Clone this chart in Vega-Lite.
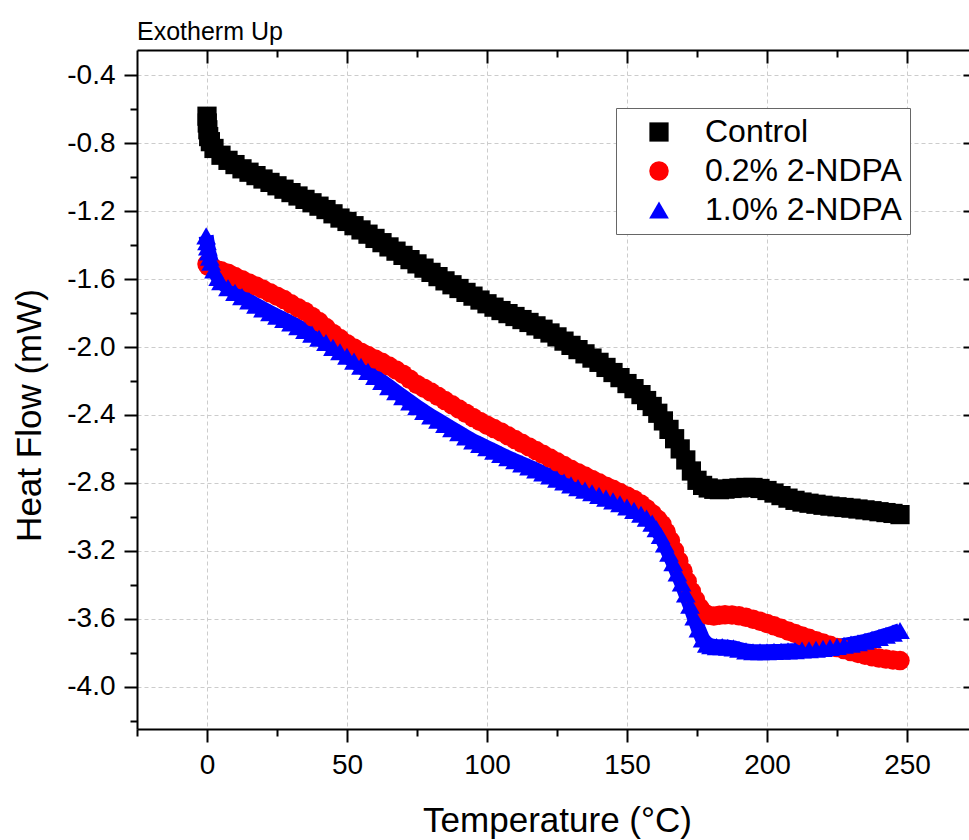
{
  "$schema": "https://vega.github.io/schema/vega-lite/v6.json",
  "width": 832,
  "height": 679,
  "autosize": {"type": "none"},
  "padding": {"left": 137, "top": 50, "right": 0, "bottom": 111},
  "background": "white",
  "title": {"text": "Exotherm Up", "anchor": "start", "frame": "group", "fontSize": 25, "font": "Liberation Sans", "fontWeight": "normal", "baseline": "alphabetic", "offset": 17, "dy": 33, "color": "black"},
  "config": {
    "locale": {"number": {"decimal": ".", "thousands": ",", "grouping": [3], "currency": ["$", ""], "minus": "-"}},
    "view": {"stroke": null},
    "axis": {"labelFont": "Liberation Sans", "titleFont": "Liberation Sans", "labelColor": "black", "titleColor": "black", "titleFontWeight": "normal", "domainColor": "black", "domainWidth": 2, "tickColor": "black", "tickWidth": 2, "gridColor": "#cccccc", "gridDash": [4, 3], "gridWidth": 1, "labelOverlap": false, "labelFlush": false}
  },
  "data": {"values": [
    {"s":"Control","t":0,"hf":-0.64},{"s":"Control","t":0.1,"hf":-0.68},{"s":"Control","t":0.3,"hf":-0.72},{"s":"Control","t":0.6,"hf":-0.76},{"s":"Control","t":1.2,"hf":-0.79},{"s":"Control","t":2.5,"hf":-0.83},{"s":"Control","t":5,"hf":-0.87},{"s":"Control","t":7.5,"hf":-0.9},{"s":"Control","t":10,"hf":-0.925},{"s":"Control","t":12.5,"hf":-0.95},{"s":"Control","t":15,"hf":-0.97},{"s":"Control","t":17.5,"hf":-0.99},{"s":"Control","t":20,"hf":-1.01},{"s":"Control","t":22.5,"hf":-1.03},{"s":"Control","t":25,"hf":-1.05},{"s":"Control","t":27.5,"hf":-1.07},{"s":"Control","t":30,"hf":-1.09},{"s":"Control","t":32.5,"hf":-1.11},{"s":"Control","t":35,"hf":-1.13},{"s":"Control","t":37.5,"hf":-1.15},{"s":"Control","t":40,"hf":-1.17},{"s":"Control","t":42.5,"hf":-1.19},{"s":"Control","t":45,"hf":-1.215},{"s":"Control","t":47.5,"hf":-1.24},{"s":"Control","t":50,"hf":-1.26},{"s":"Control","t":52.5,"hf":-1.285},{"s":"Control","t":55,"hf":-1.31},{"s":"Control","t":57.5,"hf":-1.335},{"s":"Control","t":60,"hf":-1.36},{"s":"Control","t":62.5,"hf":-1.385},{"s":"Control","t":65,"hf":-1.41},{"s":"Control","t":67.5,"hf":-1.435},{"s":"Control","t":70,"hf":-1.46},{"s":"Control","t":72.5,"hf":-1.485},{"s":"Control","t":75,"hf":-1.51},{"s":"Control","t":77.5,"hf":-1.535},{"s":"Control","t":80,"hf":-1.56},{"s":"Control","t":82.5,"hf":-1.585},{"s":"Control","t":85,"hf":-1.61},{"s":"Control","t":87.5,"hf":-1.633},{"s":"Control","t":90,"hf":-1.655},{"s":"Control","t":92.5,"hf":-1.678},{"s":"Control","t":95,"hf":-1.7},{"s":"Control","t":97.5,"hf":-1.723},{"s":"Control","t":100,"hf":-1.745},{"s":"Control","t":102.5,"hf":-1.765},{"s":"Control","t":105,"hf":-1.785},{"s":"Control","t":107.5,"hf":-1.803},{"s":"Control","t":110,"hf":-1.82},{"s":"Control","t":112.5,"hf":-1.838},{"s":"Control","t":115,"hf":-1.855},{"s":"Control","t":117.5,"hf":-1.875},{"s":"Control","t":120,"hf":-1.895},{"s":"Control","t":122.5,"hf":-1.917},{"s":"Control","t":125,"hf":-1.94},{"s":"Control","t":127.5,"hf":-1.965},{"s":"Control","t":130,"hf":-1.99},{"s":"Control","t":132.5,"hf":-2.015},{"s":"Control","t":135,"hf":-2.04},{"s":"Control","t":137.5,"hf":-2.065},{"s":"Control","t":140,"hf":-2.09},{"s":"Control","t":142.5,"hf":-2.12},{"s":"Control","t":145,"hf":-2.15},{"s":"Control","t":147.5,"hf":-2.18},{"s":"Control","t":150,"hf":-2.215},{"s":"Control","t":152.5,"hf":-2.245},{"s":"Control","t":155,"hf":-2.28},{"s":"Control","t":157,"hf":-2.315},{"s":"Control","t":159,"hf":-2.35},{"s":"Control","t":161,"hf":-2.39},{"s":"Control","t":163,"hf":-2.435},{"s":"Control","t":165,"hf":-2.485},{"s":"Control","t":167,"hf":-2.54},{"s":"Control","t":169,"hf":-2.6},{"s":"Control","t":171,"hf":-2.665},{"s":"Control","t":173,"hf":-2.73},{"s":"Control","t":175,"hf":-2.785},{"s":"Control","t":177,"hf":-2.815},{"s":"Control","t":179,"hf":-2.83},{"s":"Control","t":181,"hf":-2.838},{"s":"Control","t":183,"hf":-2.84},{"s":"Control","t":185,"hf":-2.837},{"s":"Control","t":187.5,"hf":-2.833},{"s":"Control","t":190,"hf":-2.83},{"s":"Control","t":192.5,"hf":-2.827},{"s":"Control","t":195,"hf":-2.827},{"s":"Control","t":197.5,"hf":-2.833},{"s":"Control","t":200,"hf":-2.845},{"s":"Control","t":202.5,"hf":-2.86},{"s":"Control","t":205,"hf":-2.875},{"s":"Control","t":207.5,"hf":-2.89},{"s":"Control","t":210,"hf":-2.903},{"s":"Control","t":212.5,"hf":-2.913},{"s":"Control","t":215,"hf":-2.92},{"s":"Control","t":217.5,"hf":-2.926},{"s":"Control","t":220,"hf":-2.932},{"s":"Control","t":222.5,"hf":-2.937},{"s":"Control","t":225,"hf":-2.941},{"s":"Control","t":227.5,"hf":-2.945},{"s":"Control","t":230,"hf":-2.949},{"s":"Control","t":232.5,"hf":-2.954},{"s":"Control","t":235,"hf":-2.959},{"s":"Control","t":237.5,"hf":-2.964},{"s":"Control","t":240,"hf":-2.97},{"s":"Control","t":242.5,"hf":-2.975},{"s":"Control","t":245,"hf":-2.98},{"s":"Control","t":247.5,"hf":-2.987},
    {"s":"0.2% 2-NDPA","t":0,"hf":-1.51},{"s":"0.2% 2-NDPA","t":0.5,"hf":-1.525},{"s":"0.2% 2-NDPA","t":2.5,"hf":-1.535},{"s":"0.2% 2-NDPA","t":5,"hf":-1.55},{"s":"0.2% 2-NDPA","t":7.5,"hf":-1.565},{"s":"0.2% 2-NDPA","t":10,"hf":-1.585},{"s":"0.2% 2-NDPA","t":12.5,"hf":-1.603},{"s":"0.2% 2-NDPA","t":15,"hf":-1.622},{"s":"0.2% 2-NDPA","t":17.5,"hf":-1.64},{"s":"0.2% 2-NDPA","t":20,"hf":-1.66},{"s":"0.2% 2-NDPA","t":22.5,"hf":-1.68},{"s":"0.2% 2-NDPA","t":25,"hf":-1.7},{"s":"0.2% 2-NDPA","t":27.5,"hf":-1.72},{"s":"0.2% 2-NDPA","t":30,"hf":-1.745},{"s":"0.2% 2-NDPA","t":32.5,"hf":-1.768},{"s":"0.2% 2-NDPA","t":35,"hf":-1.79},{"s":"0.2% 2-NDPA","t":37.5,"hf":-1.82},{"s":"0.2% 2-NDPA","t":40,"hf":-1.85},{"s":"0.2% 2-NDPA","t":42.5,"hf":-1.885},{"s":"0.2% 2-NDPA","t":45,"hf":-1.92},{"s":"0.2% 2-NDPA","t":47.5,"hf":-1.95},{"s":"0.2% 2-NDPA","t":50,"hf":-1.98},{"s":"0.2% 2-NDPA","t":52.5,"hf":-2.005},{"s":"0.2% 2-NDPA","t":55,"hf":-2.03},{"s":"0.2% 2-NDPA","t":57.5,"hf":-2.05},{"s":"0.2% 2-NDPA","t":60,"hf":-2.07},{"s":"0.2% 2-NDPA","t":62.5,"hf":-2.09},{"s":"0.2% 2-NDPA","t":65,"hf":-2.112},{"s":"0.2% 2-NDPA","t":67.5,"hf":-2.135},{"s":"0.2% 2-NDPA","t":70,"hf":-2.16},{"s":"0.2% 2-NDPA","t":72.5,"hf":-2.19},{"s":"0.2% 2-NDPA","t":75,"hf":-2.22},{"s":"0.2% 2-NDPA","t":77.5,"hf":-2.242},{"s":"0.2% 2-NDPA","t":80,"hf":-2.265},{"s":"0.2% 2-NDPA","t":82.5,"hf":-2.29},{"s":"0.2% 2-NDPA","t":85,"hf":-2.315},{"s":"0.2% 2-NDPA","t":87.5,"hf":-2.34},{"s":"0.2% 2-NDPA","t":90,"hf":-2.365},{"s":"0.2% 2-NDPA","t":92.5,"hf":-2.39},{"s":"0.2% 2-NDPA","t":95,"hf":-2.415},{"s":"0.2% 2-NDPA","t":97.5,"hf":-2.438},{"s":"0.2% 2-NDPA","t":100,"hf":-2.46},{"s":"0.2% 2-NDPA","t":102.5,"hf":-2.48},{"s":"0.2% 2-NDPA","t":105,"hf":-2.5},{"s":"0.2% 2-NDPA","t":107.5,"hf":-2.523},{"s":"0.2% 2-NDPA","t":110,"hf":-2.545},{"s":"0.2% 2-NDPA","t":112.5,"hf":-2.567},{"s":"0.2% 2-NDPA","t":115,"hf":-2.588},{"s":"0.2% 2-NDPA","t":117.5,"hf":-2.61},{"s":"0.2% 2-NDPA","t":120,"hf":-2.632},{"s":"0.2% 2-NDPA","t":122.5,"hf":-2.654},{"s":"0.2% 2-NDPA","t":125,"hf":-2.676},{"s":"0.2% 2-NDPA","t":127.5,"hf":-2.698},{"s":"0.2% 2-NDPA","t":130,"hf":-2.72},{"s":"0.2% 2-NDPA","t":132.5,"hf":-2.74},{"s":"0.2% 2-NDPA","t":135,"hf":-2.76},{"s":"0.2% 2-NDPA","t":137.5,"hf":-2.78},{"s":"0.2% 2-NDPA","t":140,"hf":-2.8},{"s":"0.2% 2-NDPA","t":142.5,"hf":-2.82},{"s":"0.2% 2-NDPA","t":145,"hf":-2.838},{"s":"0.2% 2-NDPA","t":147.5,"hf":-2.857},{"s":"0.2% 2-NDPA","t":150,"hf":-2.877},{"s":"0.2% 2-NDPA","t":152.5,"hf":-2.898},{"s":"0.2% 2-NDPA","t":155,"hf":-2.925},{"s":"0.2% 2-NDPA","t":157,"hf":-2.952},{"s":"0.2% 2-NDPA","t":159,"hf":-2.982},{"s":"0.2% 2-NDPA","t":161,"hf":-3.015},{"s":"0.2% 2-NDPA","t":162.5,"hf":-3.045},{"s":"0.2% 2-NDPA","t":164,"hf":-3.09},{"s":"0.2% 2-NDPA","t":165.5,"hf":-3.14},{"s":"0.2% 2-NDPA","t":167,"hf":-3.2},{"s":"0.2% 2-NDPA","t":168.5,"hf":-3.26},{"s":"0.2% 2-NDPA","t":170,"hf":-3.32},{"s":"0.2% 2-NDPA","t":171.5,"hf":-3.38},{"s":"0.2% 2-NDPA","t":173,"hf":-3.44},{"s":"0.2% 2-NDPA","t":174.5,"hf":-3.49},{"s":"0.2% 2-NDPA","t":176,"hf":-3.535},{"s":"0.2% 2-NDPA","t":177.5,"hf":-3.565},{"s":"0.2% 2-NDPA","t":179,"hf":-3.58},{"s":"0.2% 2-NDPA","t":181,"hf":-3.585},{"s":"0.2% 2-NDPA","t":183,"hf":-3.58},{"s":"0.2% 2-NDPA","t":185,"hf":-3.577},{"s":"0.2% 2-NDPA","t":187.5,"hf":-3.578},{"s":"0.2% 2-NDPA","t":190,"hf":-3.583},{"s":"0.2% 2-NDPA","t":192.5,"hf":-3.592},{"s":"0.2% 2-NDPA","t":195,"hf":-3.603},{"s":"0.2% 2-NDPA","t":197.5,"hf":-3.615},{"s":"0.2% 2-NDPA","t":200,"hf":-3.628},{"s":"0.2% 2-NDPA","t":202.5,"hf":-3.642},{"s":"0.2% 2-NDPA","t":205,"hf":-3.657},{"s":"0.2% 2-NDPA","t":207.5,"hf":-3.672},{"s":"0.2% 2-NDPA","t":210,"hf":-3.687},{"s":"0.2% 2-NDPA","t":212.5,"hf":-3.702},{"s":"0.2% 2-NDPA","t":215,"hf":-3.716},{"s":"0.2% 2-NDPA","t":217.5,"hf":-3.73},{"s":"0.2% 2-NDPA","t":220,"hf":-3.744},{"s":"0.2% 2-NDPA","t":222.5,"hf":-3.757},{"s":"0.2% 2-NDPA","t":225,"hf":-3.77},{"s":"0.2% 2-NDPA","t":227.5,"hf":-3.782},{"s":"0.2% 2-NDPA","t":230,"hf":-3.794},{"s":"0.2% 2-NDPA","t":232.5,"hf":-3.805},{"s":"0.2% 2-NDPA","t":235,"hf":-3.815},{"s":"0.2% 2-NDPA","t":237.5,"hf":-3.824},{"s":"0.2% 2-NDPA","t":240,"hf":-3.832},{"s":"0.2% 2-NDPA","t":242.5,"hf":-3.838},{"s":"0.2% 2-NDPA","t":245,"hf":-3.843},{"s":"0.2% 2-NDPA","t":247.5,"hf":-3.847},
    {"s":"1.0% 2-NDPA","t":-0.3,"hf":-1.345},{"s":"1.0% 2-NDPA","t":0,"hf":-1.38},{"s":"1.0% 2-NDPA","t":0.3,"hf":-1.41},{"s":"1.0% 2-NDPA","t":0.6,"hf":-1.44},{"s":"1.0% 2-NDPA","t":1,"hf":-1.47},{"s":"1.0% 2-NDPA","t":1.5,"hf":-1.5},{"s":"1.0% 2-NDPA","t":2.5,"hf":-1.545},{"s":"1.0% 2-NDPA","t":4,"hf":-1.59},{"s":"1.0% 2-NDPA","t":5,"hf":-1.615},{"s":"1.0% 2-NDPA","t":7.5,"hf":-1.65},{"s":"1.0% 2-NDPA","t":10,"hf":-1.678},{"s":"1.0% 2-NDPA","t":12.5,"hf":-1.703},{"s":"1.0% 2-NDPA","t":15,"hf":-1.728},{"s":"1.0% 2-NDPA","t":17.5,"hf":-1.753},{"s":"1.0% 2-NDPA","t":20,"hf":-1.775},{"s":"1.0% 2-NDPA","t":22.5,"hf":-1.797},{"s":"1.0% 2-NDPA","t":25,"hf":-1.818},{"s":"1.0% 2-NDPA","t":27.5,"hf":-1.838},{"s":"1.0% 2-NDPA","t":30,"hf":-1.858},{"s":"1.0% 2-NDPA","t":32.5,"hf":-1.88},{"s":"1.0% 2-NDPA","t":35,"hf":-1.902},{"s":"1.0% 2-NDPA","t":37.5,"hf":-1.924},{"s":"1.0% 2-NDPA","t":40,"hf":-1.948},{"s":"1.0% 2-NDPA","t":42.5,"hf":-1.973},{"s":"1.0% 2-NDPA","t":45,"hf":-2.002},{"s":"1.0% 2-NDPA","t":47.5,"hf":-2.028},{"s":"1.0% 2-NDPA","t":50,"hf":-2.054},{"s":"1.0% 2-NDPA","t":52.5,"hf":-2.083},{"s":"1.0% 2-NDPA","t":55,"hf":-2.113},{"s":"1.0% 2-NDPA","t":57.5,"hf":-2.143},{"s":"1.0% 2-NDPA","t":60,"hf":-2.173},{"s":"1.0% 2-NDPA","t":62.5,"hf":-2.203},{"s":"1.0% 2-NDPA","t":65,"hf":-2.233},{"s":"1.0% 2-NDPA","t":67.5,"hf":-2.263},{"s":"1.0% 2-NDPA","t":70,"hf":-2.293},{"s":"1.0% 2-NDPA","t":72.5,"hf":-2.323},{"s":"1.0% 2-NDPA","t":75,"hf":-2.352},{"s":"1.0% 2-NDPA","t":77.5,"hf":-2.38},{"s":"1.0% 2-NDPA","t":80,"hf":-2.406},{"s":"1.0% 2-NDPA","t":82.5,"hf":-2.431},{"s":"1.0% 2-NDPA","t":85,"hf":-2.456},{"s":"1.0% 2-NDPA","t":87.5,"hf":-2.481},{"s":"1.0% 2-NDPA","t":90,"hf":-2.505},{"s":"1.0% 2-NDPA","t":92.5,"hf":-2.529},{"s":"1.0% 2-NDPA","t":95,"hf":-2.553},{"s":"1.0% 2-NDPA","t":97.5,"hf":-2.573},{"s":"1.0% 2-NDPA","t":100,"hf":-2.593},{"s":"1.0% 2-NDPA","t":102.5,"hf":-2.613},{"s":"1.0% 2-NDPA","t":105,"hf":-2.633},{"s":"1.0% 2-NDPA","t":107.5,"hf":-2.652},{"s":"1.0% 2-NDPA","t":110,"hf":-2.67},{"s":"1.0% 2-NDPA","t":112.5,"hf":-2.688},{"s":"1.0% 2-NDPA","t":115,"hf":-2.706},{"s":"1.0% 2-NDPA","t":117.5,"hf":-2.724},{"s":"1.0% 2-NDPA","t":120,"hf":-2.742},{"s":"1.0% 2-NDPA","t":122.5,"hf":-2.76},{"s":"1.0% 2-NDPA","t":125,"hf":-2.778},{"s":"1.0% 2-NDPA","t":127.5,"hf":-2.795},{"s":"1.0% 2-NDPA","t":130,"hf":-2.812},{"s":"1.0% 2-NDPA","t":132.5,"hf":-2.828},{"s":"1.0% 2-NDPA","t":135,"hf":-2.843},{"s":"1.0% 2-NDPA","t":137.5,"hf":-2.858},{"s":"1.0% 2-NDPA","t":140,"hf":-2.874},{"s":"1.0% 2-NDPA","t":142.5,"hf":-2.89},{"s":"1.0% 2-NDPA","t":145,"hf":-2.906},{"s":"1.0% 2-NDPA","t":147.5,"hf":-2.923},{"s":"1.0% 2-NDPA","t":150,"hf":-2.942},{"s":"1.0% 2-NDPA","t":152.5,"hf":-2.962},{"s":"1.0% 2-NDPA","t":155,"hf":-2.985},{"s":"1.0% 2-NDPA","t":157,"hf":-3.008},{"s":"1.0% 2-NDPA","t":159,"hf":-3.037},{"s":"1.0% 2-NDPA","t":160.5,"hf":-3.07},{"s":"1.0% 2-NDPA","t":162,"hf":-3.11},{"s":"1.0% 2-NDPA","t":163.5,"hf":-3.16},{"s":"1.0% 2-NDPA","t":165,"hf":-3.215},{"s":"1.0% 2-NDPA","t":166.5,"hf":-3.27},{"s":"1.0% 2-NDPA","t":168,"hf":-3.33},{"s":"1.0% 2-NDPA","t":169.5,"hf":-3.39},{"s":"1.0% 2-NDPA","t":171,"hf":-3.455},{"s":"1.0% 2-NDPA","t":172.5,"hf":-3.52},{"s":"1.0% 2-NDPA","t":174,"hf":-3.59},{"s":"1.0% 2-NDPA","t":175.5,"hf":-3.66},{"s":"1.0% 2-NDPA","t":177,"hf":-3.72},{"s":"1.0% 2-NDPA","t":178.5,"hf":-3.75},{"s":"1.0% 2-NDPA","t":180,"hf":-3.76},{"s":"1.0% 2-NDPA","t":182,"hf":-3.765},{"s":"1.0% 2-NDPA","t":184,"hf":-3.765},{"s":"1.0% 2-NDPA","t":186,"hf":-3.768},{"s":"1.0% 2-NDPA","t":188,"hf":-3.772},{"s":"1.0% 2-NDPA","t":190,"hf":-3.78},{"s":"1.0% 2-NDPA","t":192.5,"hf":-3.79},{"s":"1.0% 2-NDPA","t":195,"hf":-3.795},{"s":"1.0% 2-NDPA","t":197.5,"hf":-3.795},{"s":"1.0% 2-NDPA","t":200,"hf":-3.795},{"s":"1.0% 2-NDPA","t":202.5,"hf":-3.793},{"s":"1.0% 2-NDPA","t":205,"hf":-3.792},{"s":"1.0% 2-NDPA","t":207.5,"hf":-3.79},{"s":"1.0% 2-NDPA","t":210,"hf":-3.788},{"s":"1.0% 2-NDPA","t":212.5,"hf":-3.785},{"s":"1.0% 2-NDPA","t":215,"hf":-3.783},{"s":"1.0% 2-NDPA","t":217.5,"hf":-3.78},{"s":"1.0% 2-NDPA","t":220,"hf":-3.775},{"s":"1.0% 2-NDPA","t":222.5,"hf":-3.77},{"s":"1.0% 2-NDPA","t":225,"hf":-3.764},{"s":"1.0% 2-NDPA","t":227.5,"hf":-3.757},{"s":"1.0% 2-NDPA","t":230,"hf":-3.75},{"s":"1.0% 2-NDPA","t":232.5,"hf":-3.742},{"s":"1.0% 2-NDPA","t":235,"hf":-3.733},{"s":"1.0% 2-NDPA","t":237.5,"hf":-3.722},{"s":"1.0% 2-NDPA","t":240,"hf":-3.71},{"s":"1.0% 2-NDPA","t":242.5,"hf":-3.698},{"s":"1.0% 2-NDPA","t":245,"hf":-3.685},{"s":"1.0% 2-NDPA","t":247.5,"hf":-3.67}
  ]},
  "layer": [
    {
      "transform": [{"filter": "datum.s === 'Control'"}],
      "mark": {"type": "line", "color": "#000000", "strokeWidth": 15, "strokeJoin": "round", "strokeCap": "butt"},
      "encoding": {
        "x": {"field": "t", "type": "quantitative", "scale": {"domain": [-25, 272.142857], "nice": false, "zero": false}, "axis": null},
        "y": {"field": "hf", "type": "quantitative", "scale": {"domain": [-4.25, -0.25], "nice": false, "zero": false}, "axis": null}
      }
    },
    {
      "transform": [{"filter": "datum.s === '0.2% 2-NDPA'"}],
      "mark": {"type": "line", "color": "#ff0000", "strokeWidth": 15, "strokeJoin": "round", "strokeCap": "butt"},
      "encoding": {
        "x": {"field": "t", "type": "quantitative", "scale": {"domain": [-25, 272.142857], "nice": false, "zero": false}, "axis": null},
        "y": {"field": "hf", "type": "quantitative", "scale": {"domain": [-4.25, -0.25], "nice": false, "zero": false}, "axis": null}
      }
    },
    {
      "transform": [{"filter": "datum.s === '1.0% 2-NDPA'"}],
      "mark": {"type": "line", "color": "#0000ff", "strokeWidth": 15, "strokeJoin": "round", "strokeCap": "butt"},
      "encoding": {
        "x": {"field": "t", "type": "quantitative", "scale": {"domain": [-25, 272.142857], "nice": false, "zero": false}, "axis": null},
        "y": {"field": "hf", "type": "quantitative", "scale": {"domain": [-4.25, -0.25], "nice": false, "zero": false}, "axis": null}
      }
    },
    {
      "mark": {"type": "point", "filled": true, "opacity": 1, "strokeWidth": 0},
      "encoding": {
        "x": {"field": "t", "type": "quantitative", "scale": {"domain": [-25, 272.142857], "nice": false, "zero": false},
          "axis": {"orient": "bottom", "values": [-25, 0, 25, 50, 75, 100, 125, 150, 175, 200, 225, 250], "format": "d",
            "labelExpr": "datum.value % 50 === 0 ? datum.label : ''",
            "tickSize": {"condition": {"test": "datum.value % 50 === 0", "value": 13}, "value": 7},
            "grid": true, "gridOpacity": {"condition": {"test": "datum.value % 50 === 0", "value": 1}, "value": 0},
            "labelFontSize": 28, "labelPadding": 9,
            "title": "Temperature (°C)", "titleFontSize": 35, "titleX": 420, "titleY": 102, "titleBaseline": "alphabetic"}},
        "y": {"field": "hf", "type": "quantitative", "scale": {"domain": [-4.25, -0.25], "nice": false, "zero": false},
          "axis": {"orient": "left", "values": [-4.2, -4.0, -3.8, -3.6, -3.4, -3.2, -3.0, -2.8, -2.6, -2.4, -2.2, -2.0, -1.8, -1.6, -1.4, -1.2, -1.0, -0.8, -0.6, -0.4], "format": ".1f",
            "labelExpr": "abs(round(datum.value * 10)) % 4 === 0 ? datum.label : ''",
            "tickSize": {"condition": {"test": "abs(round(datum.value * 10)) % 4 === 0", "value": 13}, "value": 7},
            "grid": true, "gridOpacity": {"condition": {"test": "abs(round(datum.value * 10)) % 4 === 0", "value": 1}, "value": 0},
            "labelFontSize": 28, "labelPadding": 9,
            "title": "Heat Flow (mW)", "titleFontSize": 35, "titleX": -97, "titleY": 365, "titleBaseline": "alphabetic", "titleAngle": -90, "titleAlign": "center"}},
        "size": {"field": "s", "type": "nominal", "sort": null, "legend": null,
          "scale": {"domain": ["Control", "0.2% 2-NDPA", "1.0% 2-NDPA"], "range": [370, 390, 540]}},
        "color": {"field": "s", "type": "nominal", "sort": null,
          "scale": {"domain": ["Control", "0.2% 2-NDPA", "1.0% 2-NDPA"], "range": ["#000000", "#ff0000", "#0000ff"]},
          "legend": {"orient": "none", "legendX": 479, "legendY": 58, "title": null, "labelFont": "Liberation Sans", "labelFontSize": 32, "labelColor": "black", "labelLimit": 400, "symbolSize": 300, "symbolStrokeWidth": 0, "padding": 8, "rowPadding": 7, "symbolOffset": 19, "labelOffset": 30, "strokeColor": "#666666", "fillColor": "white"}},
        "shape": {"field": "s", "type": "nominal", "sort": null,
          "scale": {"domain": ["Control", "0.2% 2-NDPA", "1.0% 2-NDPA"], "range": ["square", "circle", "triangle-up"]},
          "legend": {"orient": "none", "legendX": 479, "legendY": 58, "title": null, "labelFont": "Liberation Sans", "labelFontSize": 32, "labelColor": "black", "labelLimit": 400, "symbolSize": 300, "symbolStrokeWidth": 0, "padding": 8, "rowPadding": 7, "symbolOffset": 19, "labelOffset": 30, "strokeColor": "#666666", "fillColor": "white"}}
      }
    },
    {
      "mark": {"type": "point", "opacity": 0},
      "encoding": {
        "x": {"field": "t", "type": "quantitative",
          "axis": {"orient": "top", "values": [0, 25, 50, 75, 100, 125, 150, 175, 200, 225, 250], "labels": false, "domain": true, "grid": false, "title": null,
            "tickSize": {"condition": {"test": "datum.value % 50 === 0", "value": -13}, "value": -7}}},
        "y": {"field": "hf", "type": "quantitative",
          "axis": {"orient": "right", "values": [-4.0, -3.6, -3.2, -2.8, -2.4, -2.0, -1.6, -1.2, -0.8, -0.4], "labels": false, "domain": false, "grid": false, "title": null,
            "tickSize": -6}}
      }
    }
  ]
}
